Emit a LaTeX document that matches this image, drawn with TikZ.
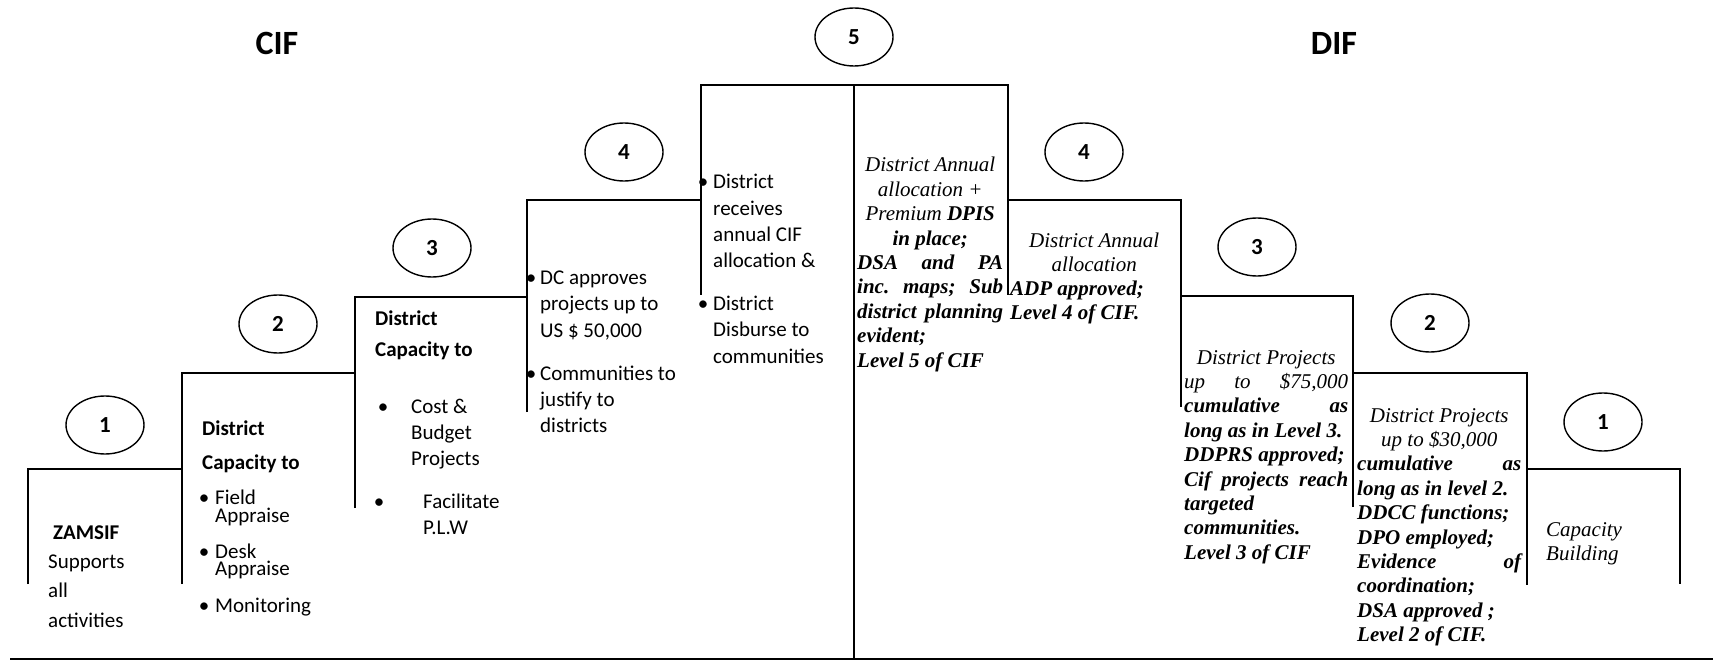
\documentclass[tikz,border=0pt]{standalone}
\usepackage{fontspec}
\setmainfont{Carlito}
\newfontfamily\tnr{Liberation Serif}
\usetikzlibrary{shapes.geometric}

% one line of a fixed-width block: centred, spread, flush left
\newcommand\LnC[1]{\makebox[\linewidth][c]{#1}}
\newcommand\LnS[1]{\makebox[\linewidth][s]{#1}}
\newcommand\LnL[1]{\makebox[\linewidth][l]{#1}}
% sans paragraph with explicit breaks and a given line pitch
\newcommand\cblock[2]{\parbox[t]{220pt}{\raggedright\fontsize{21}{#1}\selectfont #2}}
% serif block of a given width and line pitch
\newcommand\tblock[3]{\parbox[t]{#1}{\tnr\fontsize{21}{#2}\selectfont #3}}

\begin{document}
\begin{tikzpicture}[x=1pt,y=-1pt,
  stepline/.style={line width=1.9pt},
  baseline rule/.style={line width=2.2pt},
  num/.style={draw, ellipse, line width=1.4pt, minimum width=78pt,
    minimum height=58pt, inner sep=0pt, font=\fontsize{23}{26}\selectfont\bfseries},
  txt/.style={inner sep=0pt, anchor=base west},
  dot/.style={inner sep=0pt, anchor=base, font=\fontsize{21}{26}\selectfont},
  title/.style={inner sep=0pt, anchor=base, font=\fontsize{34}{40}\selectfont\bfseries}]
\useasboundingbox (0,0) rectangle (1713,660);

% ---- staircase outline ----
\draw[stepline] (28,584) -- (28,469) -- (182,469);
\draw[stepline] (182,584) -- (182,373) -- (355,373);
\draw[stepline] (355,508) -- (355,297) -- (527,297);
\draw[stepline] (527,412) -- (527,200) -- (701,200);
\draw[stepline] (701,295) -- (701,85) -- (1008,85) -- (1008,295);
\draw[stepline] (854,85) -- (854,659);
\draw[stepline] (1008,200) -- (1181,200) -- (1181,407);
\draw[stepline] (1181,296) -- (1353,296) -- (1353,507);
\draw[stepline] (1353,373) -- (1527,373) -- (1527,585);
\draw[stepline] (1527,469) -- (1680,469) -- (1680,584);
\draw[baseline rule] (10,659) -- (1713,659);

% ---- titles ----
\node[title] (cif) at (277,55) {CIF};
\node[title] (dif) at (1334,55) {DIF};

% ---- level numbers ----
\node[num] (l1) at (105,425) {1};
\node[num] (l2) at (278,324) {2};
\node[num] (l3) at (432,248) {3};
\node[num] (l4) at (624,152) {4};
\node[num] (l5) at (854,37) {5};
\node[num] (r4) at (1084,152) {4};
\node[num] (r3) at (1257,247) {3};
\node[num] (r2) at (1430,323) {2};
\node[num] (r1) at (1603,422) {1};

% ---- CIF side ----
\node[txt] (zamsif) at (53,539) {\fontsize{21}{26}\selectfont\bfseries ZAMSIF};
\node[txt] (supports) at (48,568) {\cblock{29.5}{Supports\\all\\activities}};

\node[txt] (dc2a) at (202,435) {\fontsize{21}{26}\selectfont\bfseries District};
\node[txt] (dc2b) at (202,469) {\fontsize{21}{26}\selectfont\bfseries Capacity to};
\node[dot] (b2a) at (204,504) {•};
\node[txt] (field) at (215,504) {\cblock{18}{Field\\Appraise}};
\node[dot] (b2b) at (204,558) {•};
\node[txt] (desk) at (215,558) {\cblock{17.5}{Desk\\Appraise}};
\node[dot] (b2c) at (204,612) {•};
\node[txt] (monit) at (215,612) {\cblock{26}{Monitoring}};

\node[txt] (dc3a) at (375,326) {\fontsize{21}{26}\selectfont\bfseries District};
\node[txt] (dc3b) at (375,356) {\fontsize{21}{26}\selectfont\bfseries Capacity to};
\node[dot] (b3a) at (383,413) {•};
\node[txt] (cost) at (411,413) {\cblock{26}{Cost \&\\Budget\\Projects}};
\node[dot] (b3b) at (379,508) {•};
\node[txt] (plw) at (423,508) {\cblock{26}{Facilitate\\P.L.W}};

\node[dot] (b4a) at (531,285) {•};
\node[txt] (dcapp) at (540,285) {\cblock{26}{DC approves\\projects up to\\US \$ 50,000}};
\node[dot] (b4b) at (531,380) {•};
\node[txt] (justify) at (540,380) {\cblock{26}{Communities to\\justify to\\districts}};

\node[dot] (b5a) at (703,189) {•};
\node[txt] (receives) at (713,189) {\cblock{26.3}{District\\receives\\annual CIF\\allocation \&}};
\node[dot] (b5b) at (703,310) {•};
\node[txt] (disburse) at (713,310) {\cblock{26.5}{District\\Disburse to\\communities}};

% ---- DIF side ----
\node[txt] (d5) at (857,172) {\tblock{146pt}{24.4}{%
  \LnC{\itshape District Annual}\par
  \LnC{\itshape allocation +}\par
  \LnC{\itshape Premium \bfseries DPIS}\par
  \LnC{\bfseries\itshape in place;}\par
  \LnS{\bfseries\itshape DSA\hfill and\hfill PA}\par
  \LnS{\bfseries\itshape inc.\hfill maps;\hfill Sub}\par
  \LnS{\bfseries\itshape district\hfill planning}\par
  \LnL{\bfseries\itshape evident;}\par
  \LnL{\bfseries\itshape Level 5 of CIF}}};

\node[txt] (d4) at (1010,248) {\tblock{168pt}{24}{%
  \LnC{\itshape District Annual}\par
  \LnC{\itshape allocation}\par
  \LnL{\bfseries\itshape ADP approved;}\par
  \LnL{\bfseries\itshape Level 4 of CIF.}}};

\node[txt] (d3) at (1184,364) {\tblock{164pt}{24.4}{%
  \LnC{\itshape District Projects}\par
  \LnS{\itshape up\hfill to\hfill \$75,000}\par
  \LnS{\bfseries\itshape cumulative\hfill as}\par
  \LnL{\bfseries\itshape long as in Level 3.}\par
  \LnL{\bfseries\itshape DDPRS approved;}\par
  \LnS{\bfseries\itshape Cif\hfill projects\hfill reach}\par
  \LnL{\bfseries\itshape targeted}\par
  \LnL{\bfseries\itshape communities.}\par
  \LnL{\bfseries\itshape Level 3 of CIF}}};

\node[txt] (d2) at (1357,422) {\tblock{164pt}{24.4}{%
  \LnC{\itshape District Projects}\par
  \LnC{\itshape up to \$30,000}\par
  \LnS{\bfseries\itshape cumulative\hfill as}\par
  \LnL{\bfseries\itshape long as in level 2.}\par
  \LnL{\bfseries\itshape DDCC functions;}\par
  \LnL{\bfseries\itshape DPO employed;}\par
  \LnS{\bfseries\itshape Evidence\hfill of}\par
  \LnL{\bfseries\itshape coordination;}\par
  \LnL{\bfseries\itshape DSA approved ;}\par
  \LnL{\bfseries\itshape Level 2 of CIF.}}};

\node[txt] (d1) at (1546,536) {\tblock{120pt}{24}{%
  \LnL{\itshape Capacity}\par
  \LnL{\itshape Building}}};

\end{tikzpicture}
\end{document}
